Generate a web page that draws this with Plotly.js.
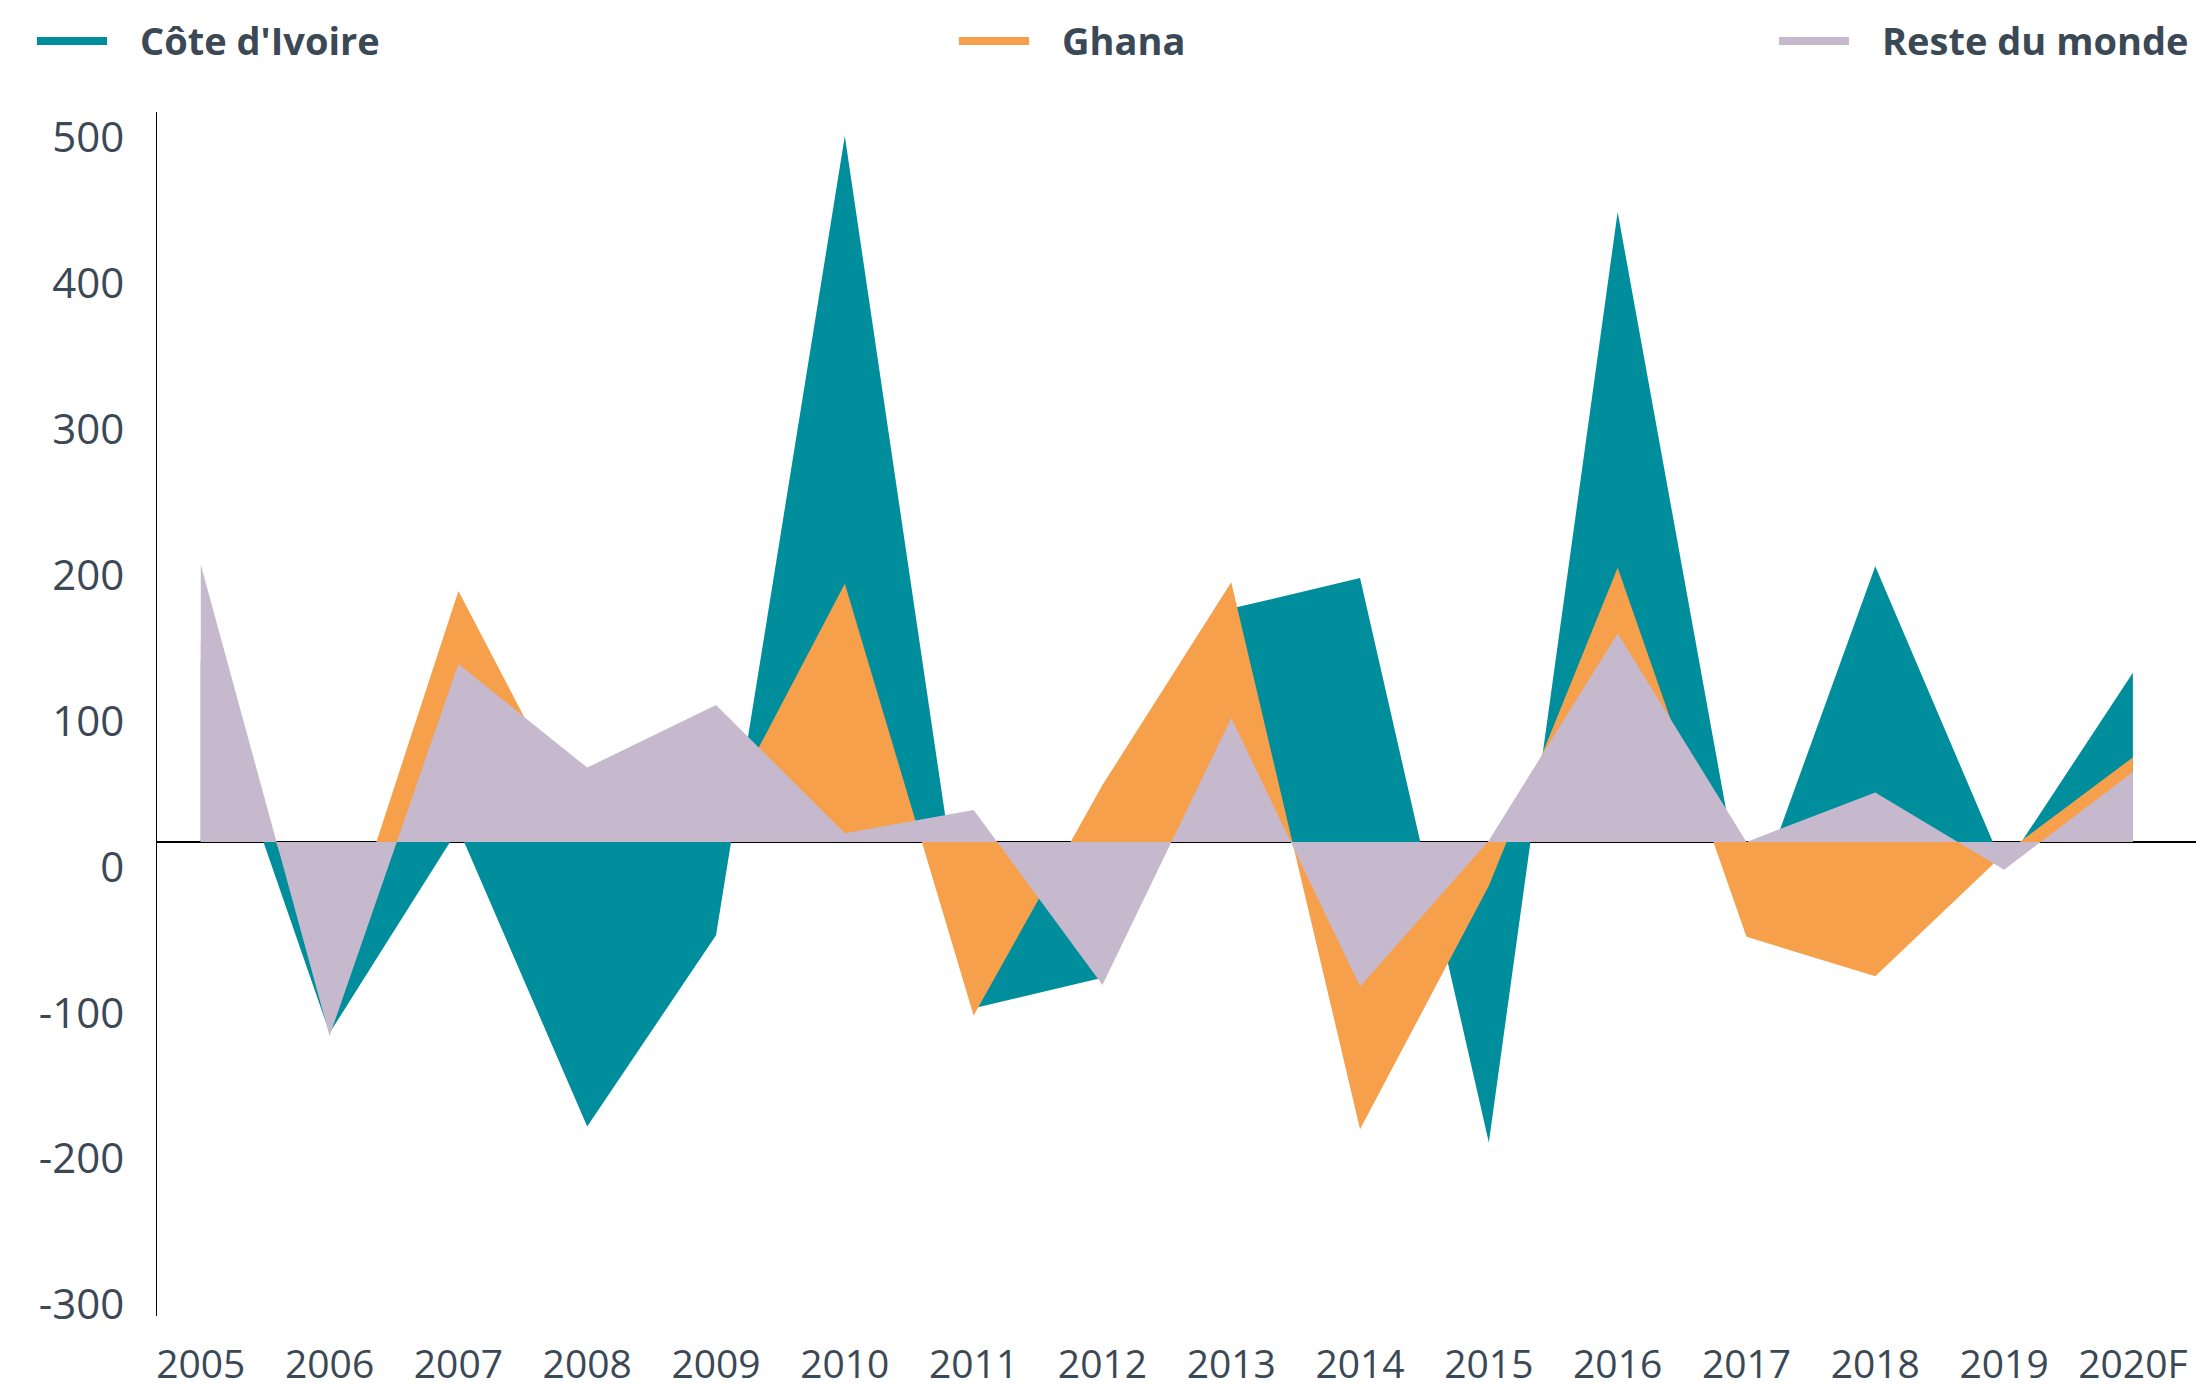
<!DOCTYPE html>
<html>
<head>
<meta charset="utf-8">
<script src="https://cdn.plot.ly/plotly-3.0.1.min.js"></script>
<style>
  html, body { margin: 0; padding: 0; background: #ffffff; }
  #chart { width: 2203px; height: 1389px; }
</style>
</head>
<body>
<div id="chart"></div>
<script>
// ---- Data ----
const years = ['2005','2006','2007','2008','2009','2010','2011','2012','2013','2014','2015','2016','2017','2018','2019','2020F'];
const coteDIvoire = [124, -131, 9, -195, -64, 484, -114, -93, 160, 181, -206, 432, -55, 189, -18, 116];
const ghana       = [137, -98, 172, 3, 9, 177, -119, 39, 178, -197, -30, 188, -65, -92, -8, 58];
const resteDuMonde = [190, -133, 122, 51, 94, 6, 22, -98, 85, -99, 1, 143, 0, 34, -19, 48];
const seriesNames = ["Côte d'Ivoire", 'Ghana', 'Reste du monde'];
const yTickValues = [-300, -200, -100, 0, 100, 200, 300, 400, 500];
const yTickLabels = ['-300', '-200', '-100', '0', '100', '200', '300', '400', '500'];

// ---- Styles ----
const colors = ['#018E9C', '#F7A04B', '#C6B9CE'];
const textColor = '#3B4856';
const fontFamily = 'Open Sans, Noto Sans, sans-serif';

const seriesValues = [coteDIvoire, ghana, resteDuMonde];
const traces = seriesValues.map((vals, i) => ({
  type: 'scatter',
  mode: 'lines',
  name: seriesNames[i],
  x: years,
  y: vals,
  fill: 'tozeroy',
  fillcolor: colors[i],
  line: { width: 0, color: colors[i] },
  showlegend: false,
  hoverinfo: 'x+y+name'
}));

// Manual legend (long line swatches like the reference)
const legendX = [[-0.0589, -0.0245, -0.0092], [0.3933, 0.4277, 0.4428], [0.7955, 0.8298, 0.8452]];
const legendY = 1.059;
const shapes = legendX.map((p, i) => ({
  type: 'line', xref: 'paper', yref: 'paper',
  x0: p[0], x1: p[1], y0: legendY, y1: legendY,
  line: { color: colors[i], width: 8 }
}));
const annotations = legendX.map((p, i) => ({
  xref: 'paper', yref: 'paper', x: p[2], y: legendY + 0.001,
  xanchor: 'left', yanchor: 'middle', showarrow: false,
  text: seriesNames[i],
  font: { family: fontFamily, size: 38, weight: 700, color: textColor }
}));

const layout = {
  width: 2203,
  height: 1389,
  margin: { l: 157, r: 7, t: 112, b: 73, pad: 0 },
  paper_bgcolor: '#ffffff',
  plot_bgcolor: '#ffffff',
  showlegend: false,
  font: { family: fontFamily, color: textColor, size: 39 },
  xaxis: {
    type: 'category',
    categoryorder: 'array',
    categoryarray: years,
    range: [-0.34, 15.49],
    showgrid: false,
    zeroline: false,
    showline: false,
    ticks: '',
    ticklabelstandoff: 22,
    tickfont: { family: fontFamily, size: 39, color: textColor },
    fixedrange: true
  },
  yaxis: {
    range: [-325, 500.5],
    tickvals: yTickValues,
    ticktext: yTickLabels,
    showgrid: false,
    zeroline: true,
    zerolinecolor: '#000000',
    zerolinewidth: 1.3,
    showline: true,
    linecolor: '#000000',
    linewidth: 1.3,
    ticks: '',
    ticklabelshift: 25,
    ticklabelstandoff: 23,
    tickfont: { family: fontFamily, size: 42, color: textColor },
    fixedrange: true
  },
  shapes: shapes,
  annotations: annotations
};

Plotly.newPlot('chart', traces, layout, { displayModeBar: false, staticPlot: true });
</script>
</body>
</html>
